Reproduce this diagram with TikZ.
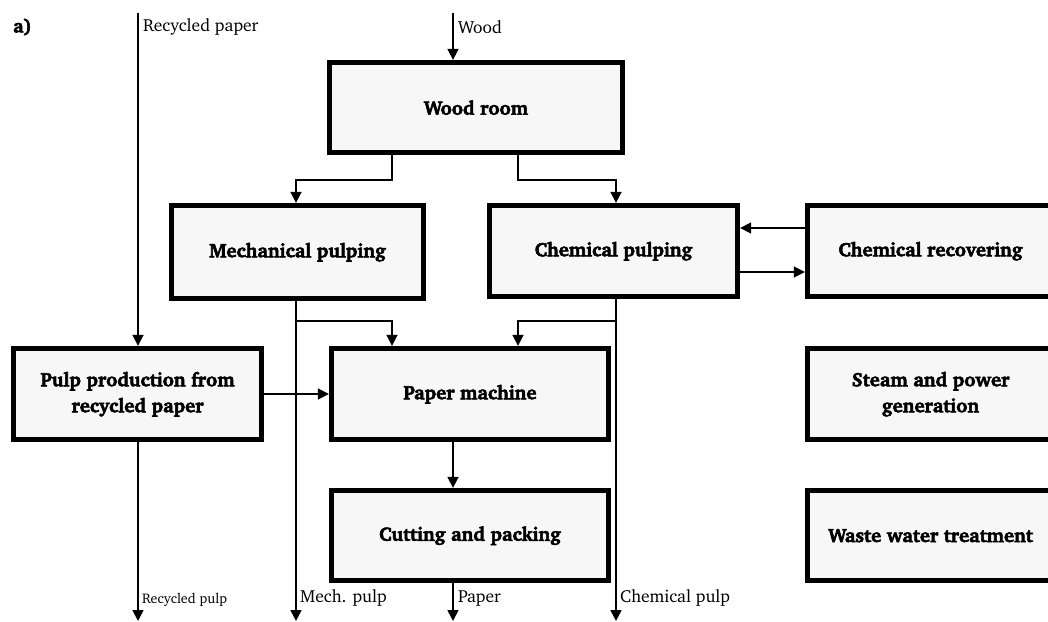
\documentclass[tikz,border=0pt]{standalone}
\usepackage[T1]{fontenc}
\usepackage{charter}
\usetikzlibrary{arrows.meta}
\definecolor{boxfill}{HTML}{F7F7F7}
% heavier bold: fill and stroke the glyph outlines
\newcommand\heavytext[1]{\special{pdf:literal direct 2 Tr 0.55 w}#1\special{pdf:literal direct 0 Tr}}
\begin{document}
\begin{tikzpicture}[x=1pt,y=-1pt,
  unit/.style={draw=black, line width=4.8pt, fill=boxfill, align=center,
    inner sep=0pt, font=\fontsize{19.4}{26}\selectfont\bfseries},
  flow/.style={line width=1.6pt, -{Triangle[length=11pt,width=11pt]}},
  lbl/.style={font=\fontsize{17.5}{20}\selectfont, inner sep=0pt, anchor=west}]
\useasboundingbox (0,0) rectangle (1048,621);

% process units
\node[unit, minimum width=293.5pt, minimum height=90.5pt] (wood)  at (476,107.5) {\heavytext{Wood room}};
\node[unit, minimum width=252.5pt, minimum height=93.5pt] (mech)  at (297.5,252) {\heavytext{Mechanical pulping}};
\node[unit, minimum width=248.5pt, minimum height=91.5pt] (chem)  at (613.5,251) {\heavytext{Chemical pulping}};
\node[unit, minimum width=246.5pt, minimum height=91.5pt] (recov) at (930.5,251) {\heavytext{Chemical recovering}};
\node[unit, minimum width=248.5pt, minimum height=91.5pt] (pulp)  at (137.5,394) {\heavytext{Pulp production from}\\\heavytext{recycled paper}};
\node[unit, minimum width=277.5pt, minimum height=91.5pt] (paper) at (470,394) {\heavytext{Paper machine}};
\node[unit, minimum width=246.5pt, minimum height=91.5pt] (steam) at (930.5,394) {\heavytext{Steam and power}\\\heavytext{generation}};
\node[unit, minimum width=277.5pt, minimum height=90.5pt] (cut)   at (470,535.5) {\heavytext{Cutting and packing}};
\node[unit, minimum width=246.5pt, minimum height=90.5pt] (waste) at (930.5,535.5) {\heavytext{Waste water treatment}};

% column and row guides for the connectors
\coordinate (cR) at (138,0);
\coordinate (cM) at (296,0);
\coordinate (cA) at (392,0);
\coordinate (cW) at (453,0);
\coordinate (cB) at (518,0);
\coordinate (cC) at (616,0);
\coordinate (top) at (0,13);
\coordinate (bot) at (0,621);
\coordinate (r1) at (0,180);
\coordinate (r2) at (0,321);
\coordinate (h1) at (0,228);
\coordinate (h2) at (0,272);
\coordinate (h3) at (0,394);

% material flows
\draw[flow] (cR |- top) -- (pulp.north -| cR);
\draw[flow] (cW |- top) -- (wood.north -| cW);
\draw[flow] (wood.south -| cA) -- (cA |- r1) -- (cM |- r1) -- (mech.north -| cM);
\draw[flow] (wood.south -| cB) -- (cB |- r1) -- (cC |- r1) -- (chem.north -| cC);
\draw[flow] (mech.south -| cM) -- (cM |- bot);
\draw[flow] (cM |- r2) -- (cA |- r2) -- (paper.north -| cA);
\draw[flow] (chem.south -| cC) -- (cC |- bot);
\draw[flow] (cC |- r2) -- (cB |- r2) -- (paper.north -| cB);
\draw[flow] (recov.west |- h1) -- (chem.east |- h1);
\draw[flow] (chem.east |- h2) -- (recov.west |- h2);
\draw[flow] (pulp.east |- h3) -- (paper.west |- h3);
\draw[flow] (pulp.south -| cR) -- (cR |- bot);
\draw[flow] (paper.south -| cW) -- (cut.north -| cW);
\draw[flow] (cut.south -| cW) -- (cW |- bot);

% labels
\node[lbl, font=\fontsize{19}{22}\selectfont\bfseries] (tag) at (13,27) {\heavytext{a)}};
\node[lbl] (lrpaper) at (143,27) {Recycled paper};
\node[lbl] (lwood) at (458,27) {Wood};
\node[lbl, font=\fontsize{14}{16}\selectfont] (lrpulp) at (142,600) {Recycled pulp};
\node[lbl] (lmech) at (300,598) {Mech. pulp};
\node[lbl] (lpaper) at (458,598) {Paper};
\node[lbl] (lchem) at (620,598) {Chemical pulp};
\end{tikzpicture}
\end{document}
